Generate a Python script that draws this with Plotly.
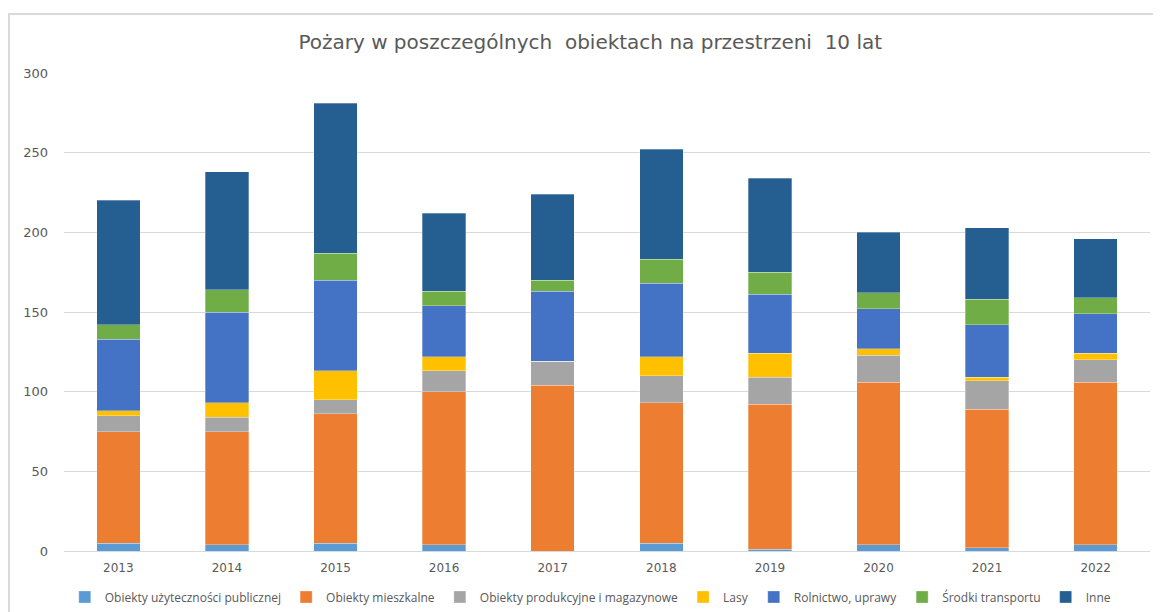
import plotly.graph_objects as go

years = ["2013", "2014", "2015", "2016", "2017", "2018", "2019", "2020", "2021", "2022"]

obiekty_uzytecznosci = [5, 4, 5, 4, 0, 5, 1, 4, 2, 4]
obiekty_mieszkalne = [70, 71, 81, 96, 104, 88, 91, 102, 87, 102]
obiekty_produkcyjne = [10, 9, 9, 13, 15, 17, 17, 17, 18, 14]
lasy = [3, 9, 18, 9, 0, 12, 15, 4, 2, 4]
rolnictwo = [45, 57, 57, 32, 44, 46, 37, 25, 33, 25]
srodki_transportu = [9, 14, 17, 9, 7, 15, 14, 10, 16, 10]
inne = [78, 74, 94, 49, 54, 69, 59, 38, 45, 37]

series = [
    ("Obiekty użyteczności publicznej", obiekty_uzytecznosci, "#5B9BD5"),
    ("Obiekty mieszkalne", obiekty_mieszkalne, "#ED7D31"),
    ("Obiekty produkcyjne i magazynowe", obiekty_produkcyjne, "#A5A5A5"),
    ("Lasy", lasy, "#FFC000"),
    ("Rolnictwo, uprawy", rolnictwo, "#4472C4"),
    ("Środki transportu", srodki_transportu, "#70AD47"),
    ("Inne", inne, "#255E91"),
]

fig = go.Figure()
for name, vals, color in series:
    fig.add_trace(go.Bar(
        x=years, y=vals, name=name,
        marker=dict(color=color, line=dict(color="rgba(255,255,255,0.6)", width=0.5)),
    ))

tick_font = "DejaVu Sans, Liberation Sans, sans-serif"
legend_font = "Open Sans, Liberation Sans, sans-serif"
fig.update_layout(
    barmode="stack",
    bargap=0.6,
    width=1153, height=604,
    paper_bgcolor="white", plot_bgcolor="white",
    margin=dict(l=56, r=11, t=65, b=61, autoexpand=False),
    title=dict(text="Pożary w poszczególnych  obiektach na przestrzeni  10 lat",
               x=0.505, xanchor="center", xref="container",
               y=0.9437, yanchor="middle", yref="container",
               font=dict(family=tick_font, size=20, color="#595959")),
    font=dict(family=tick_font, size=12, color="#595959"),
    xaxis=dict(showgrid=False, showline=True, linecolor="#D9D9D9", linewidth=1,
               ticks="", ticklabelstandoff=6, tickfont=dict(size=12, color="#595959")),
    yaxis=dict(range=[0, 300], dtick=50, showgrid=True, gridcolor="#D9D9D9",
               gridwidth=1, zeroline=False, ticks="", ticklabelstandoff=15,
               tickfont=dict(size=13, color="#595959")),
    legend=dict(orientation="h", x=0.4846, xanchor="center", y=-0.0962, yanchor="middle",
                font=dict(family=legend_font, size=12, color="#595959"),
                traceorder="normal", itemwidth=30),
    showlegend=True,
)

fig.add_shape(type="rect", xref="paper", yref="paper",
              x0=-0.0507, x1=1.03, y0=-0.16, y1=1.1234,
              line=dict(color="#D9D9D9", width=2), layer="below")

fig.write_html("out.html")
